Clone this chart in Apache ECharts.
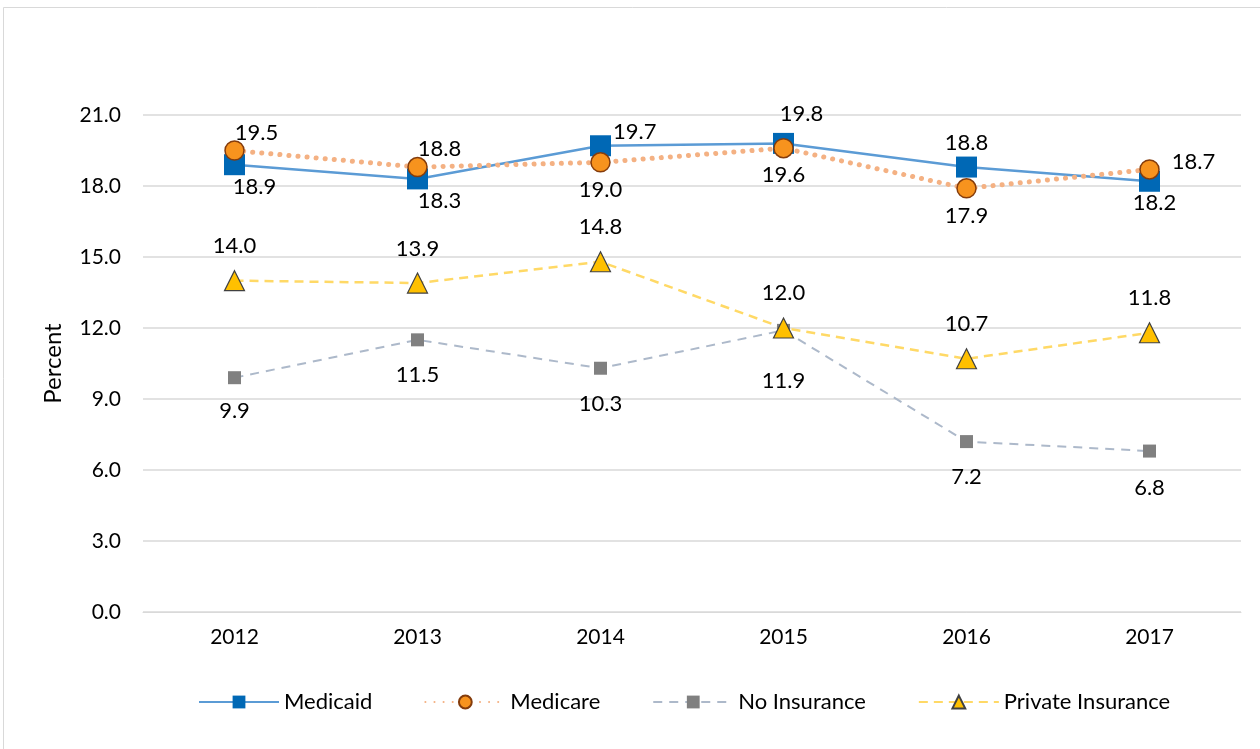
<!DOCTYPE html>
<html><head><meta charset="utf-8">
<script src="https://cdn.jsdelivr.net/npm/echarts@6/dist/echarts.min.js"></script>
<style>html,body{margin:0;padding:0;background:#fff}#c{width:1260px;height:749px}</style>
</head><body><div id="c"></div>
<script>
const years = ['2012','2013','2014','2015','2016','2017'];
const medicaid = [18.9, 18.3, 19.7, 19.8, 18.8, 18.2];
const medicare = [19.5, 18.8, 19.0, 19.6, 17.9, 18.7];
const noInsurance = [9.9, 11.5, 10.3, 11.9, 7.2, 6.8];
const privateIns = [14.0, 13.9, 14.8, 12.0, 10.7, 11.8];

// label placement (position, offset) per point
const medicaidLbl = [['bottom',[20,-4]],['bottom',[22,-4]],['right',[-3,-14]],['top',[18,-3]],['top',[0,2]],['bottom',[5,-5]]];
const medicareLbl = [['top',[22,9]],['top',[22,8]],['bottom',[0,1]],['bottom',[0,1]],['bottom',[0,1]],['right',[7,-8]]];
const noLbl = [['bottom',[0,11]],['bottom',[0,13]],['bottom',[0,13]],['bottom',[0,28]],['bottom',[0,13]],['bottom',[0,14]]];
const privLbl = years.map(()=>['top',[0,-8]]);

const F = 'Lato, "Open Sans", sans-serif';
function mk(vals, lbl){
  return vals.map((v,i)=>({value:v,label:{position:lbl[i][0],offset:lbl[i][1]}}));
}
const chart = echarts.init(document.getElementById('c'));
chart.setOption({
  animation:false,
  backgroundColor:'#fff',
  graphic:[{type:'rect',shape:{x:3.5,y:7.5,width:1262,height:745},style:{fill:'none',stroke:'#d9d9d9',lineWidth:1}}],
  grid:{left:143,right:19,top:115,bottom:137},
  legend:{
    bottom:31,left:193,itemGap:52,itemWidth:80,itemHeight:16,
    textStyle:{fontFamily:F,fontSize:22,color:'#000'},
    data:['Medicaid','Medicare','No Insurance','Private Insurance']
  },
  xAxis:{type:'category',data:years,
    axisLine:{lineStyle:{color:'#d9d9d9',width:1}},axisTick:{show:false},
    axisLabel:{fontFamily:F,fontSize:21,color:'#000',margin:15}},
  yAxis:{type:'value',min:0,max:21,interval:3,name:'Percent',nameLocation:'middle',nameGap:78,
    nameTextStyle:{fontFamily:F,fontSize:24,color:'#000'},
    axisLine:{show:false},axisTick:{show:false},
    splitLine:{lineStyle:{color:'#d9d9d9',width:1.5}},
    axisLabel:{fontFamily:F,fontSize:21,color:'#000',margin:22,formatter:v=>v.toFixed(1)}},
  series:[
    {name:'Medicaid',type:'line',data:mk(medicaid,medicaidLbl),
      lineStyle:{color:'#5B9BD5',width:2.5},symbol:'rect',symbolSize:21,
      itemStyle:{color:'#0068B5'},z:3,
      label:{show:true,fontFamily:F,fontSize:22,color:'#000',formatter:p=>p.value.toFixed(1)}},
    {name:'Medicare',type:'line',data:mk(medicare,medicareLbl),
      lineStyle:{color:'#F4B183',width:5,type:[0.1,9],cap:'round'},symbol:'circle',symbolSize:19,
      itemStyle:{color:'#F7931E',borderColor:'#843C0C',borderWidth:1.5},z:4,
      label:{show:true,fontFamily:F,fontSize:22,color:'#000',formatter:p=>p.value.toFixed(1)}},
    {name:'No Insurance',type:'line',data:mk(noInsurance,noLbl),
      lineStyle:{color:'#ADB9CA',width:2,type:[9,7]},symbol:'rect',symbolSize:13,
      itemStyle:{color:'#808080'},z:2,
      label:{show:true,fontFamily:F,fontSize:22,color:'#000',formatter:p=>p.value.toFixed(1)}},
    {name:'Private Insurance',type:'line',data:mk(privateIns,privLbl),
      lineStyle:{color:'#FFD966',width:2.5,type:[9,6]},symbol:'triangle',symbolSize:20,
      itemStyle:{color:'#FFC000',borderColor:'#404040',borderWidth:1.2},z:2,
      label:{show:true,fontFamily:F,fontSize:22,color:'#000',formatter:p=>p.value.toFixed(1)}}
  ]
});
</script></body></html>
